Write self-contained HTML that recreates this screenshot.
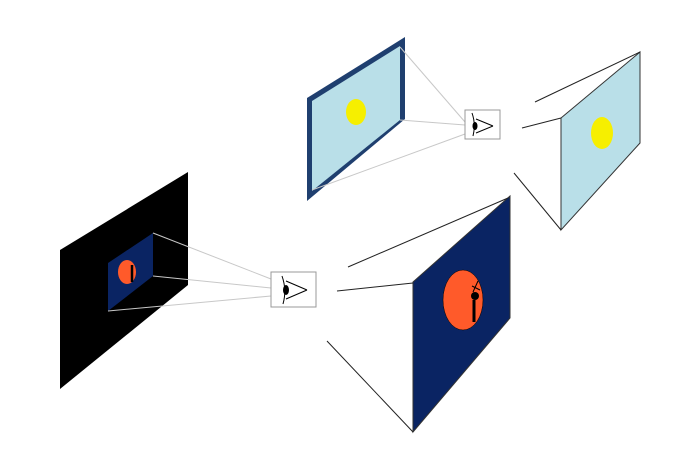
<!DOCTYPE html>
<html><head><style>body{margin:0;background:#fff}svg{display:block}</style></head><body>
<svg width="700" height="455" viewBox="0 0 700 455" xmlns="http://www.w3.org/2000/svg">
<!-- top framed picture -->
<polygon points="307,98 405,37 405,119 307,201" fill="#1f3f6f"/>
<polygon points="312,101 400,46 400,120 312,191" fill="#b9dfe8"/>
<ellipse cx="356" cy="112" rx="10" ry="13" fill="#f6ef00"/>
<g stroke="#c8c8c8" stroke-width="1">
<line x1="400" y1="47" x2="465" y2="122"/>
<line x1="400" y1="120" x2="465" y2="125"/>
<line x1="312" y1="190" x2="465" y2="134"/>
</g>
<rect x="465" y="110" width="35" height="29" fill="#fff" stroke="#999"/>
<g stroke="#000" fill="none" stroke-width="1">
<path d="M472,113 Q476,124 473,136"/><path d="M493,126 L476,119 M493,126 L476,133"/>
</g>
<ellipse cx="475" cy="126" rx="2.5" ry="4" fill="#000"/>
<!-- top right panel -->
<polygon points="561,118 640,52 640,143 561,230" fill="#b9dfe8" stroke="#333" stroke-width="1"/>
<ellipse cx="602" cy="133" rx="11" ry="16" fill="#f6ef00"/>
<g stroke="#222" stroke-width="1">
<line x1="535" y1="102" x2="640" y2="52"/>
<line x1="522" y1="128" x2="561" y2="118"/>
<line x1="514" y1="173" x2="561" y2="230"/>
</g>
<!-- bottom left -->
<polygon points="60,250 188,172 188,285 60,389" fill="#000"/>
<polygon points="108,263 153,233 153,276 108,311" fill="#0a2463"/>
<ellipse cx="127" cy="272" rx="9" ry="12" fill="#ff5a2a"/>
<path d="M132,265 L132,282" stroke="#000" stroke-width="2.5"/>
<g stroke="#c8c8c8" stroke-width="1">
<line x1="153" y1="233" x2="271" y2="279"/>
<line x1="153" y1="276" x2="271" y2="288"/>
<line x1="108" y1="311" x2="271" y2="296"/>
</g>
<rect x="271" y="272" width="45" height="35" fill="#fff" stroke="#999"/>
<g stroke="#000" fill="none" stroke-width="1">
<path d="M282,276 Q287,290 283,304"/><path d="M307,290 L286,281 M307,290 L286,299"/>
</g>
<ellipse cx="286" cy="290" rx="3" ry="5" fill="#000"/>
<!-- bottom right panel -->
<polygon points="413,282 510,196 510,318 413,432" fill="#0a2463" stroke="#333" stroke-width="1"/>
<ellipse cx="463" cy="300" rx="20" ry="30" fill="#ff5a2a" stroke="#000" stroke-width="0.5"/>
<path d="M474,300 L474,322" stroke="#000" stroke-width="3"/>
<circle cx="475" cy="296" r="4" fill="#000"/>
<path d="M473,292 L478,281 M472,286 L480,290" stroke="#000" stroke-width="1"/>
<g stroke="#222" stroke-width="1">
<line x1="348" y1="267" x2="508" y2="198"/>
<line x1="337" y1="291" x2="413" y2="283"/>
<line x1="327" y1="341" x2="413" y2="432"/>
</g>
</svg>
</body></html>
